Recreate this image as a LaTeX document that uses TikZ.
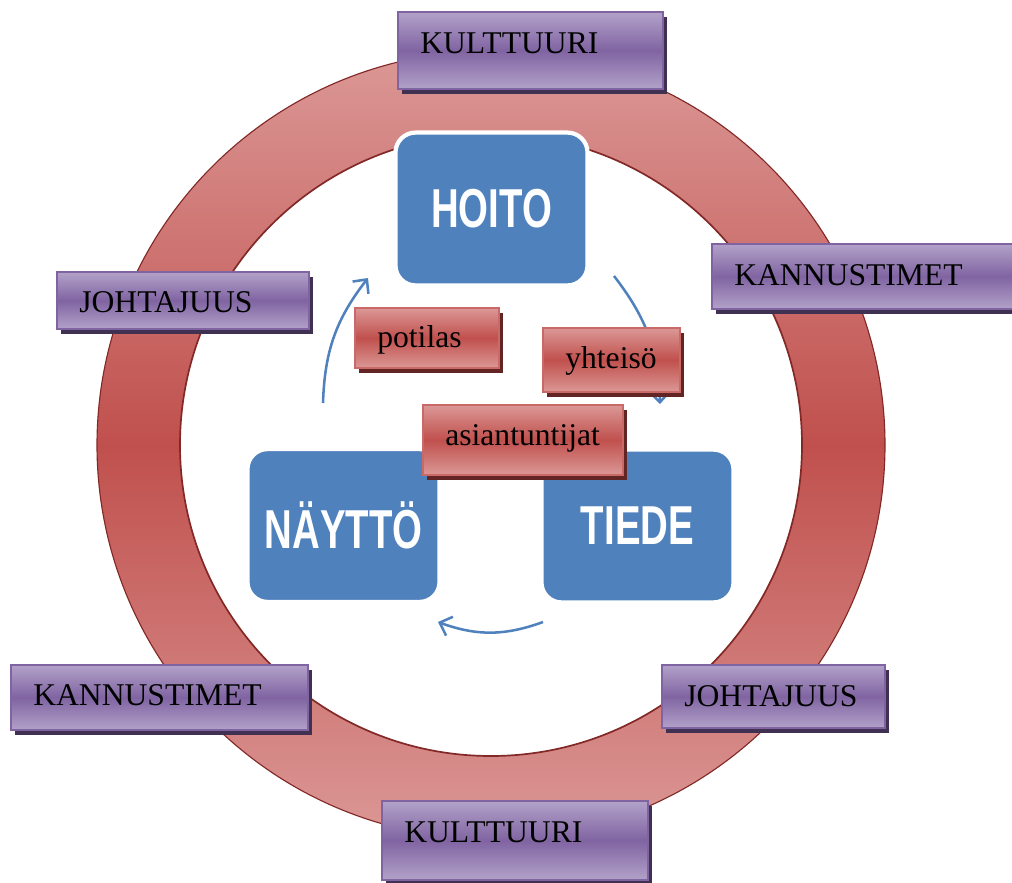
\documentclass[tikz,border=0pt]{standalone}
\usepackage{fontspec}
\setmainfont{Liberation Serif}
\newfontfamily\blockfont{Liberation Sans}
\usepackage{graphicx}
\usetikzlibrary{arrows.meta, positioning, calc}
\definecolor{ringlight}{RGB}{219,152,150}
\definecolor{ringdark}{RGB}{192,80,77}
\definecolor{ringedge}{RGB}{130,40,38}
\definecolor{hoitoblue}{RGB}{79,129,189}
\definecolor{purplelight}{RGB}{178,162,201}
\definecolor{purpledark}{RGB}{128,100,162}
\definecolor{purpleshadow}{RGB}{64,49,82}
\definecolor{redlight}{RGB}{219,152,150}
\definecolor{reddark}{RGB}{192,80,77}
\definecolor{redshadow}{RGB}{99,37,35}

\newcommand{\bluelabel}[1]{\scalebox{0.7}[1]{\blockfont\bfseries\fontsize{39}{44}\selectfont #1}}

\tikzset{
  bluebox/.style={fill=hoitoblue, draw=white, line width=3pt, rounded corners=0.5cm,
                  minimum width=4.8cm, minimum height=3.82cm, inner sep=0pt, text=white},
  purplebox/.style={top color=purplelight, bottom color=purplelight, middle color=purpledark,
                    draw=purpledark, line width=1pt},
  redbox/.style={top color=redlight, bottom color=redlight, middle color=reddark,
                 draw=reddark!85!white, line width=1pt},
  boxtext/.style={inner sep=0pt, anchor=base west, font=\fontsize{22.5}{26}\selectfont},
  cyclearrow/.style={hoitoblue, line width=1.8pt, -{Straight Barb[length=2.6mm, width=5mm]}}
}

\begin{document}
\begin{tikzpicture}[x=0.025cm, y=-0.025cm]
  \useasboundingbox (0,0) rectangle (1012,882);

  % Ring
  \shade[top color=ringlight, bottom color=ringlight, middle color=ringdark]
    (885,445) arc[start angle=0, end angle=360, radius=394]
    -- (802,445) arc[start angle=360, end angle=0, radius=311] -- cycle;
  \draw[ringedge, line width=0.8pt] (491,445) circle[radius=394];
  \draw[ringedge, line width=1.2pt] (491,445) circle[radius=311];

  % Cycle arrows
  \coordinate (la) at (323,403);
  \coordinate (lb) at (368,278);
  \coordinate (ra) at (614,276);
  \coordinate (rb) at (660,404);
  \coordinate (ba) at (543,622);
  \coordinate (bb) at (438,622);
  \draw[cyclearrow] (la) to[bend left=18] (lb);
  \draw[cyclearrow] (ra) to[bend left=18] (rb);
  \draw[cyclearrow] (ba) to[bend left=20] (bb);

  % Blue blocks
  \node[bluebox] (hoito) at (491.5,209) {\bluelabel{HOITO}};
  \node[bluebox] (naytto) at (343.5,525.5) {\bluelabel{NÄYTTÖ}};
  \node[bluebox] (tiede) at (637.5,526) {\bluelabel{TIEDE}};

  % Red labels
  \foreach \n/\xa/\ya/\xb/\yb/\txt/\yt in {potilas/355/308/499/368/potilas/347,
      yhteiso/543/328/680/392/yhteisö/368,
      asiantuntijat/423/405/623/475/asiantuntijat/445} {
    \fill[redshadow] (\xa+4,\ya+5) rectangle (\xb+4,\yb+5);
    \draw[redbox] (\xa,\ya) rectangle (\xb,\yb);
    \node[boxtext] (\n) at (\xa+22,\yt) {\txt};
  }

  % Purple labels round the ring
  \foreach \n/\xa/\ya/\xb/\yb/\txt/\yt in {kulttuuri1/398/12/663/89/KULTTUURI/53,
      johtajuus1/57/272/309/329/JOHTAJUUS/312,
      kannustimet1/712/244/1030/309/KANNUSTIMET/285,
      kannustimet2/11/665/308/730/KANNUSTIMET/705,
      johtajuus2/662/665/885/728/JOHTAJUUS/706,
      kulttuuri2/382/801/648/880/KULTTUURI/842} {
    \fill[purpleshadow] (\xa+4,\ya+5) rectangle (\xb+4,\yb+5);
    \draw[purplebox] (\xa,\ya) rectangle (\xb,\yb);
    \node[boxtext] (\n) at (\xa+22,\yt) {\txt};
  }
\end{tikzpicture}
\end{document}
